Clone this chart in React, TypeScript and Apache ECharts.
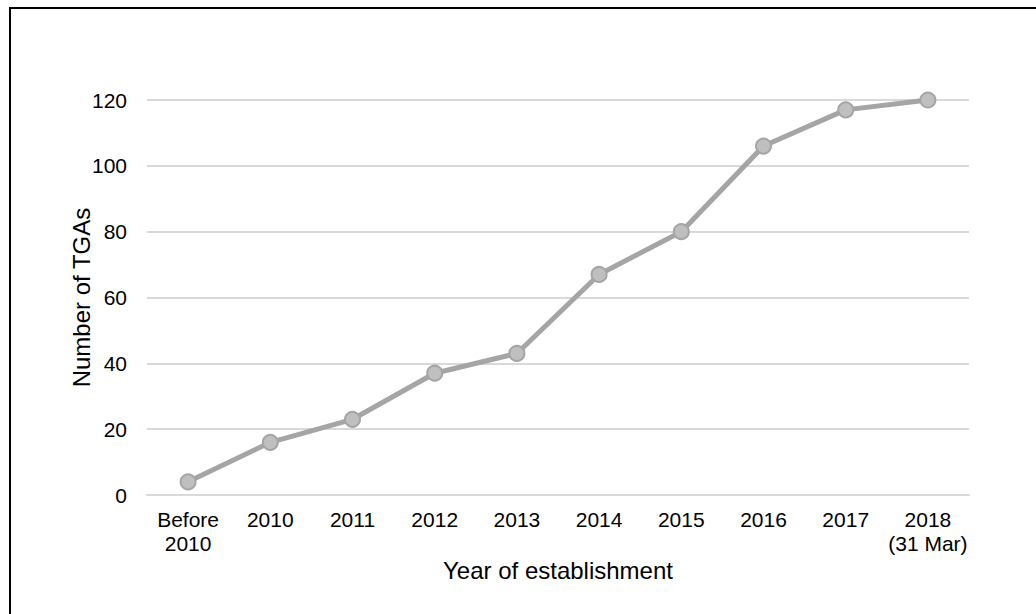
import React, { useEffect, useRef } from "react";
import * as echarts from "echarts";

const categories = ["Before\n2010", "2010", "2011", "2012", "2013", "2014", "2015", "2016", "2017", "2018\n(31 Mar)"];
const values = [4, 16, 23, 37, 43, 67, 80, 106, 117, 120];
const yAxisName = "Number of TGAs";
const xAxisName = "Year of establishment";

const FONT = "'Liberation Sans', Arial, sans-serif";

export default function App() {
  const ref = useRef<HTMLDivElement>(null);
  useEffect(() => {
    document.body.style.margin = "0";
    document.body.style.overflow = "hidden";
    const chart = echarts.init(ref.current!, undefined, { renderer: "svg" });
    chart.setOption({
      animation: false,
      backgroundColor: "transparent",
      textStyle: { fontFamily: FONT },
      grid: { left: 147, right: 67, top: 100, bottom: 119 },
      xAxis: {
        type: "category",
        data: categories,
        boundaryGap: true,
        axisLine: { show: true, lineStyle: { color: "#d9d9d9", width: 2 } },
        axisTick: { show: false },
        axisLabel: { color: "#000", fontSize: 21, lineHeight: 24, margin: 12, fontFamily: FONT, interval: 0 },
        name: xAxisName,
        nameLocation: "middle",
        nameGap: 63,
        nameMoveOverlap: false,
        nameTextStyle: { color: "#000", fontSize: 24, fontFamily: FONT },
      },
      yAxis: {
        type: "value",
        min: 0,
        max: 120,
        interval: 20,
        axisLine: { show: false },
        axisTick: { show: false },
        splitLine: { lineStyle: { color: "#d9d9d9", width: 2 } },
        axisLabel: { color: "#000", fontSize: 21, margin: 20, fontFamily: FONT },
        name: yAxisName,
        nameLocation: "middle",
        nameGap: 54,
        nameMoveOverlap: false,
        nameTextStyle: { color: "#000", fontSize: 24, fontFamily: FONT },
      },
      series: [
        {
          type: "line",
          data: values,
          symbol: "circle",
          symbolSize: 15,
          lineStyle: { color: "#a5a5a5", width: 5 },
          itemStyle: { color: "#bfbfbf", borderColor: "#a5a5a5", borderWidth: 2 },
        },
      ],
    });
    return () => chart.dispose();
  }, []);
  return (
    <div style={{ position: "relative", width: 1036, height: 614, overflow: "hidden", background: "#fff" }}>
      <div
        style={{
          position: "absolute",
          left: 9,
          top: 7,
          width: 1100,
          height: 700,
          borderLeft: "2px solid #000",
          borderTop: "2px solid #000",
        }}
      />
      <div ref={ref} style={{ position: "absolute", left: 0, top: 0, width: 1036, height: 614 }} />
    </div>
  );
}
